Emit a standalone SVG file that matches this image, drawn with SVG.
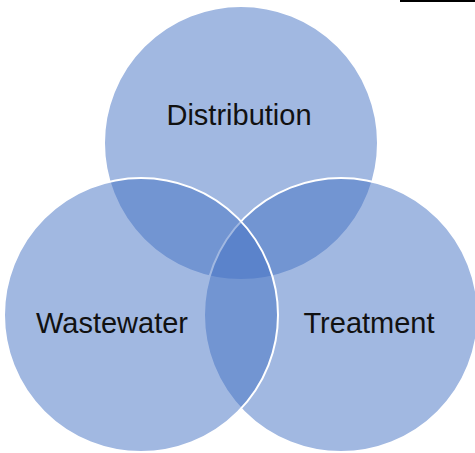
<svg xmlns="http://www.w3.org/2000/svg" width="475" height="453" viewBox="0 0 475 453">
<style>
.c{fill:#4472C4;fill-opacity:0.5;stroke:#FFFFFF;stroke-width:2}
.t{font-family:"Liberation Sans",Arial,sans-serif;font-size:29px;fill:#111111;text-anchor:middle}
</style>
<rect width="475" height="453" fill="#FFFFFF"/>
<line x1="400" y1="1" x2="475" y2="1" stroke="#000000" stroke-width="2"/>
<g id="distribution">
<circle class="c" cx="241" cy="143" r="137"/>
</g>
<g id="treatment">
<circle class="c" cx="341" cy="315" r="137"/>
</g>
<g id="wastewater">
<circle class="c" cx="141" cy="315" r="137"/>
</g>
<g id="labels">
<text class="t" x="239" y="125">Distribution</text>
<text class="t" x="112" y="333">Wastewater</text>
<text class="t" x="369" y="333">Treatment</text>
</g>
<g id="connectors"/>
</svg>
